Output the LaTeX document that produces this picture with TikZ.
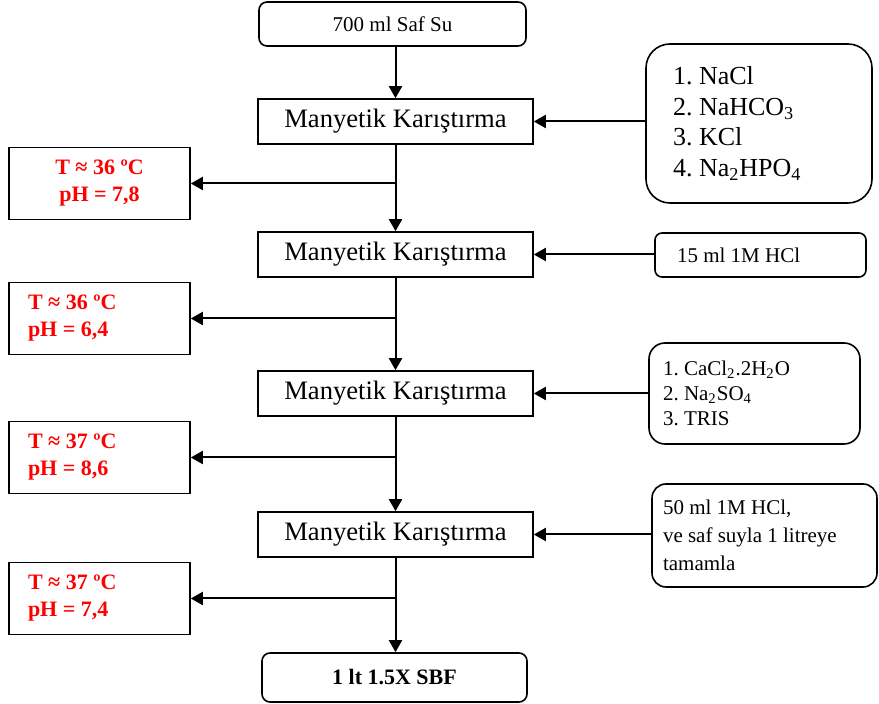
\documentclass[tikz,border=0pt]{standalone}
\usepackage{fontspec}
\setmainfont{Liberation Serif}
\usetikzlibrary{arrows.meta}
\frenchspacing
\begin{document}
\begin{tikzpicture}[x=0.5pt,y=-0.5pt,>={Triangle[length=6pt,width=6.5pt]},
    flow/.style={->,line width=1pt},
    mix/.style={draw,line width=0.8pt,minimum width=137.5pt,minimum height=22.5pt,inner sep=0pt,
        font=\fontsize{13.3}{15}\selectfont},
    cond/.style={draw,line width=0.8pt,minimum width=90.5pt,minimum height=36pt,inner sep=0pt,
        align=center,text=red,font=\fontsize{11}{13.5}\selectfont\bfseries},
    condl/.style={cond,text width=71.5pt,inner xsep=9.5pt,align=left,
        execute at begin node={\spaceskip=0pt\xspaceskip=0pt}},
    add/.style={draw,line width=0.8pt,align=left,inner ysep=0pt,
        execute at begin node={\spaceskip=0pt\xspaceskip=0pt}},
    ends/.style={draw,line width=0.8pt,rounded corners=4pt,inner sep=0pt}]
    \useasboundingbox (0,0) rectangle (879,704);

    \node[ends,minimum width=133.5pt,minimum height=22pt,font=\fontsize{10.5}{12}\selectfont]
        (water) at (392.5,24) {700 ml Saf Su};

    \node[mix] (m1) at (395.5,121.5) {Manyetik Karıştırma};
    \node[mix] (m2) at (395.5,254.5) {Manyetik Karıştırma};
    \node[mix] (m3) at (395.5,393.5) {Manyetik Karıştırma};
    \node[mix] (m4) at (395.5,534.5) {Manyetik Karıştırma};

    \node[ends,minimum width=132.5pt,minimum height=24.5pt,font=\fontsize{11}{13}\selectfont\bfseries]
        (sbf) at (394.5,677.5) {1 lt 1.5X SBF};

    \node[cond] (c1) at (99.5,183.5) {T ≈ 36 ºC\\pH = 7,8};
    \node[condl] (c2) at (99.5,318.5) {T ≈ 36 ºC\\pH = 6,4};
    \node[condl] (c3) at (99.5,457.5) {T ≈ 37 ºC\\pH = 8,6};
    \node[condl] (c4) at (99.5,598.5) {T ≈ 37 ºC\\pH = 7,4};

    \node[add,rounded corners=12pt,minimum height=79.5pt,text width=86pt,inner xsep=13.5pt,
        font=\fontsize{13}{15.3}\selectfont] (r1) at (759,123.5)
        {1. NaCl\\2. NaHCO\textsubscript{3}\\3. KCl\\4. Na\textsubscript{2}HPO\textsubscript{4}};
    \node[add,rounded corners=3.5pt,minimum height=22pt,text width=83.5pt,inner xsep=11pt,
        font=\fontsize{10.5}{12.5}\selectfont] (r2) at (760.5,255) {15 ml 1M HCl};
    \node[add,rounded corners=8pt,minimum height=50.5pt,text width=91.5pt,inner xsep=7pt,
        font=\fontsize{10.5}{12.5}\selectfont] (r3) at (754.5,393.5)
        {1. CaCl\textsubscript{2}.2H\textsubscript{2}O\\2. Na\textsubscript{2}SO\textsubscript{4}\\3. TRIS};
    \node[add,rounded corners=7pt,minimum height=51.5pt,text width=101.5pt,inner xsep=5.5pt,
        font=\fontsize{10.5}{14}\selectfont] (r4) at (764.5,535.5)
        {50 ml 1M HCl,\\ve saf suyla 1 litreye\\tamamla};

    \draw[flow] (water.south -| m1) -- (m1.north);
    \foreach \src/\dst in {m1/m2,m2/m3,m3/m4}
        \draw[flow] (\src.south) -- (\dst.north);
    \draw[flow] (m4.south) -- (m4.south |- sbf.north);
    \foreach \src/\dst in {m1/c1,m2/c2,m3/c3,m4/c4}
        \draw[flow] (\src.south |- \dst.east) -- (\dst.east);
    \foreach \src/\dst in {r1/m1,r2/m2,r3/m3,r4/m4}
        \draw[flow] (\src.west |- \dst) -- (\dst.east);
\end{tikzpicture}
\end{document}
